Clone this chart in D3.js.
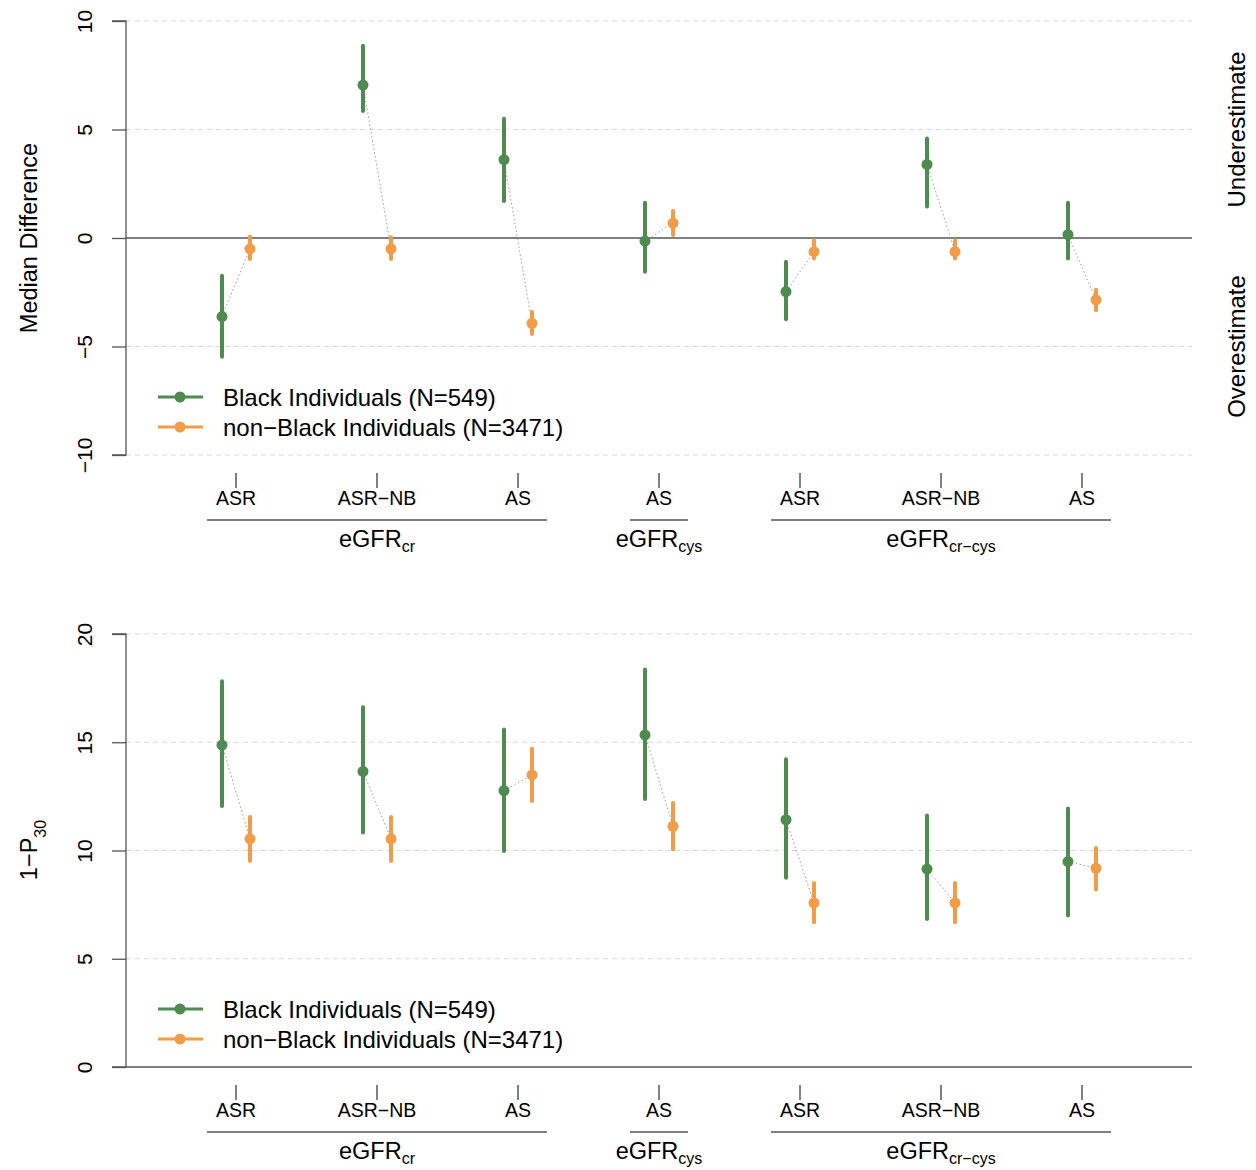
<!DOCTYPE html>
<html><head><meta charset="utf-8">
<script src="https://cdn.jsdelivr.net/npm/d3@7"></script>
<style>body{margin:0;background:#fff}svg{display:block;font-family:"Liberation Sans",Arial,sans-serif}</style>
</head><body>
<script>
// ---------- data ----------
const methods = ["ASR","ASR\u2212NB","AS","AS","ASR","ASR\u2212NB","AS"];
const familyNames = ["eGFR","eGFR","eGFR"];
const familySubs = ["cr","cys","cr\u2212cys"];
const familyFrom = [0,3,4];
const familyTo = [2,3,6];
const seriesNames = ["Black Individuals (N=549)","non\u2212Black Individuals (N=3471)"];

// Median difference
const mdBlack   = [-3.62, 7.05, 3.61, -0.14, -2.47, 3.39, 0.16];
const mdBlackLo = [-5.47, 5.85, 1.70, -1.55, -3.74, 1.45, -0.95];
const mdBlackHi = [-1.74, 8.86, 5.50, 1.63, -1.09, 4.58, 1.63];
const mdNon     = [-0.50, -0.50, -3.93, 0.69, -0.63, -0.63, -2.85];
const mdNonLo   = [-0.97, -0.97, -4.42, 0.14, -0.95, -0.95, -3.33];
const mdNonHi   = [0.06, 0.03, -3.40, 1.24, -0.10, -0.10, -2.39];

// 1 - P30
const pBlack   = [14.87, 13.65, 12.77, 15.34, 11.42, 9.14, 9.49];
const pBlackLo = [12.05, 10.83, 9.98, 12.38, 8.74, 6.84, 7.00];
const pBlackHi = [17.82, 16.62, 15.59, 18.36, 14.22, 11.62, 11.94];
const pNon     = [10.54, 10.54, 13.49, 11.12, 7.58, 7.58, 9.18];
const pNonLo   = [9.52, 9.52, 12.29, 10.06, 6.69, 6.69, 8.20];
const pNonHi   = [11.55, 11.55, 14.70, 12.19, 8.50, 8.50, 10.12];

const mdTicks = [-10,-5,0,5,10];
const pTicks = [0,5,10,15,20];

// ---------- drawing ----------
const W = 1256, H = 1170;
const GREEN = "#4f8a50", ORANGE = "#f19c48", AXIS = "#555";
const svg = d3.select("body").append("svg").attr("width", W).attr("height", H);

const x = d3.scaleLinear().domain([0, 6]).range([236, 1082]);
const OFF = 14;

function panel(cfg) {
  const g = svg.append("g");
  const y = d3.scaleLinear().domain(cfg.domain).range([cfg.bottom, cfg.top]);
  const L = 126, R = 1192;
  // gridlines
  g.selectAll(".grid").data(cfg.ticks.filter(t => t !== 0)).join("line")
    .attr("x1", L).attr("x2", R).attr("y1", d => y(d)).attr("y2", d => y(d))
    .attr("stroke", "#d9d9d9").attr("stroke-width", 1).attr("stroke-dasharray", "5,4");
  // zero line
  g.append("line").attr("x1", L).attr("x2", R).attr("y1", y(0)).attr("y2", y(0))
    .attr("stroke", AXIS).attr("stroke-width", 1.3);
  // y axis
  const ya = g.append("g").attr("transform", `translate(${L},0)`)
    .call(d3.axisLeft(y).tickValues(cfg.ticks).tickSize(14).tickFormat(d => d < 0 ? "\u2212" + Math.abs(d) : d));
  ya.select(".domain").attr("stroke", AXIS).attr("stroke-width", 1.3).attr("d", `M-14,${y(cfg.domain[1])}H0V${y(cfg.domain[0])}H-14`);
  ya.selectAll(".tick line").attr("stroke", AXIS).attr("stroke-width", 1.3);
  ya.selectAll(".tick text").attr("fill", "#000").attr("font-size", 21)
    .attr("text-anchor", "middle").attr("dy", 0).attr("x", 0)
    .attr("transform", "translate(-34,0) rotate(-90)");
  // y title
  const yt = g.append("text").attr("transform", `translate(37,${cfg.titleY}) rotate(-90)`)
    .attr("text-anchor", "middle").attr("font-size", 23.5).attr("fill", "#000");
  yt.append("tspan").text(cfg.title);
  if (cfg.titleSub) yt.append("tspan").text(cfg.titleSub).attr("font-size", 16).attr("baseline-shift", "sub");

  // connectors
  g.selectAll(".conn").data(d3.range(7)).join("line")
    .attr("x1", i => x(i) - OFF).attr("y1", i => y(cfg.black[i]))
    .attr("x2", i => x(i) + OFF).attr("y2", i => y(cfg.non[i]))
    .attr("stroke", "#9a9a9a").attr("stroke-width", 1).attr("stroke-dasharray", "1.5,2.5");

  const series = [
    {v: cfg.black, lo: cfg.blackLo, hi: cfg.blackHi, c: GREEN, dx: -OFF},
    {v: cfg.non, lo: cfg.nonLo, hi: cfg.nonHi, c: ORANGE, dx: OFF}
  ];
  series.forEach(s => {
    g.selectAll(null).data(d3.range(7)).join("line")
      .attr("x1", i => x(i) + s.dx).attr("x2", i => x(i) + s.dx)
      .attr("y1", i => y(s.lo[i])).attr("y2", i => y(s.hi[i]))
      .attr("stroke", s.c).attr("stroke-width", 4).attr("stroke-linecap", "round");
    g.selectAll(null).data(d3.range(7)).join("circle")
      .attr("cx", i => x(i) + s.dx).attr("cy", i => y(s.v[i])).attr("r", 5.5).attr("fill", s.c);
  });

  // legend
  [0, 1].forEach(k => {
    const ly = cfg.legendY + k * 30, c = k === 0 ? GREEN : ORANGE;
    g.append("line").attr("x1", 158).attr("x2", 203).attr("y1", ly).attr("y2", ly).attr("stroke", c).attr("stroke-width", 3);
    g.append("circle").attr("cx", 180).attr("cy", ly).attr("r", 5.5).attr("fill", c);
    g.append("text").attr("x", 223).attr("y", ly + 8.5).attr("font-size", 24).attr("fill", "#000").text(seriesNames[k]);
  });

  // x axis: method ticks
  const xb = cfg.bottom;
  g.selectAll(".xt").data(d3.range(7)).join("line")
    .attr("x1", i => x(i)).attr("x2", i => x(i)).attr("y1", xb + 18).attr("y2", xb + 33)
    .attr("stroke", "#000").attr("stroke-width", 1);
  g.selectAll(".xl").data(d3.range(7)).join("text")
    .attr("x", i => x(i)).attr("y", xb + 50).attr("text-anchor", "middle").attr("font-size", 19.5)
    .attr("fill", "#000").text(i => methods[i]);
  // family brackets
  familyNames.forEach((nm, k) => {
    g.append("line").attr("x1", x(familyFrom[k]) - 29).attr("x2", x(familyTo[k]) + 29)
      .attr("y1", xb + 65).attr("y2", xb + 65).attr("stroke", "#000").attr("stroke-width", 1.2);
    const t = g.append("text").attr("x", (x(familyFrom[k]) + x(familyTo[k])) / 2).attr("y", xb + 92)
      .attr("text-anchor", "middle").attr("font-size", 23.5).attr("fill", "#000");
    t.append("tspan").text(nm);
    t.append("tspan").text(familySubs[k]).attr("font-size", 16).attr("dy", 5);
  });

  if (cfg.side) {
    [["Underestimate", y(5)], ["Overestimate", y(-5)]].forEach(([s, yy]) => {
      g.append("text").attr("transform", `translate(1245,${yy}) rotate(-90)`)
        .attr("text-anchor", "middle").attr("font-size", 24).attr("fill", "#000").text(s);
    });
  }
}

panel({domain: [-10, 10], ticks: mdTicks, top: 21, bottom: 455, title: "Median Difference", titleY: 238,
  black: mdBlack, blackLo: mdBlackLo, blackHi: mdBlackHi, non: mdNon, nonLo: mdNonLo, nonHi: mdNonHi,
  legendY: 397, side: true});
panel({domain: [0, 20], ticks: pTicks, top: 634, bottom: 1067, title: "1\u2212P", titleSub: "30", titleY: 850,
  black: pBlack, blackLo: pBlackLo, blackHi: pBlackHi, non: pNon, nonLo: pNonLo, nonHi: pNonHi,
  legendY: 1009, side: false});
</script>
</body></html>
